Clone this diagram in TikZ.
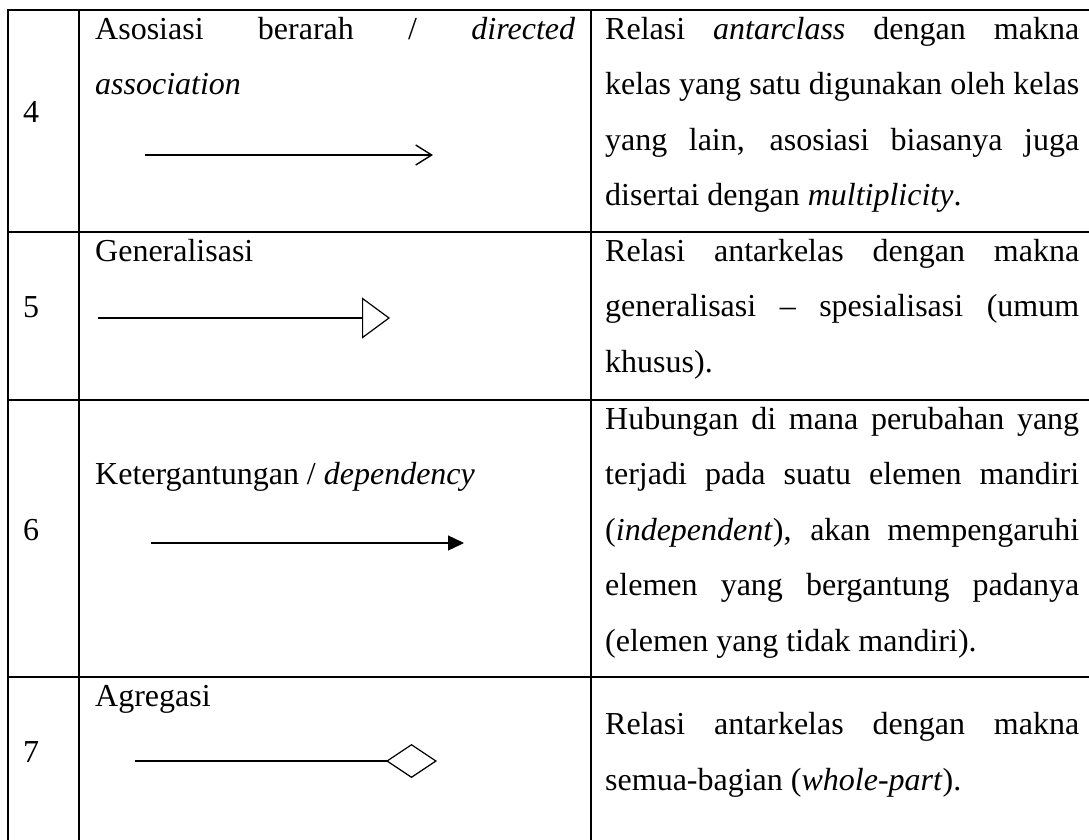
\documentclass[tikz,border=0pt]{standalone}
\usepackage{fontspec}
\setmainfont{Liberation Serif}
\usetikzlibrary{arrows.meta}
\newcommand{\jcol}[1]{\makebox[474pt][s]{#1}}
\newcommand{\jmid}[1]{\makebox[480pt][s]{#1}}
\begin{document}
\begin{tikzpicture}[x=1pt,y=-1pt,
  txt/.style={anchor=base west, inner sep=0pt, font=\fontsize{32pt}{38pt}\selectfont},
  grid/.style={line width=2.4pt, line cap=rect, line join=miter},
  conn/.style={line width=1.4pt}]
\useasboundingbox (0,0) rectangle (1089,839);
% table rules
\draw[grid] (1089,10) -- (8,10) -- (8,839);
\draw[grid] (79,10) -- (79,839);
\draw[grid] (591,10) -- (591,839);
\draw[grid] (8,232) -- (1089,232);
\draw[grid] (8,400) -- (1089,400);
\draw[grid] (8,677) -- (1089,677);
% numbers
\node[txt] (n4) at (23,122) {4};
\node[txt] (n5) at (23,317) {5};
\node[txt] (n6) at (23,540) {6};
\node[txt] (n7) at (23,762) {7};
% middle column
\node[txt] (a1) at (95,39) {\jmid{Asosiasi berarah / \textit{directed}}};
\node[txt] (a2) at (95,94.5) {\textit{association}};
\node[txt] (g1) at (95,261) {Generalisasi};
\node[txt] (k1) at (95,484.5) {Ketergantungan / \textit{dependency}};
\node[txt] (ag1) at (95,706) {Agregasi};
% right column, row 4
\node[txt] (d41) at (605,39) {\jcol{Relasi \textit{antarclass} dengan makna}};
\node[txt] (d42) at (605,94.5) {\jcol{kelas yang satu digunakan oleh kelas}};
\node[txt] (d43) at (605,150) {\jcol{yang lain, asosiasi biasanya juga}};
\node[txt] (d44) at (605,205.5) {disertai dengan \textit{multiplicity}.};
% row 5
\node[txt] (d51) at (605,261) {\jcol{Relasi antarkelas dengan makna}};
\node[txt] (d52) at (605,316.5) {\jcol{generalisasi – spesialisasi (umum}};
\node[txt] (d53) at (605,372) {khusus).};
% row 6
\node[txt] (d61) at (605,429) {\jcol{Hubungan di mana perubahan yang}};
\node[txt] (d62) at (605,484.5) {\jcol{terjadi pada suatu elemen mandiri}};
\node[txt] (d63) at (605,540) {\jcol{(\textit{independent}), akan mempengaruhi}};
\node[txt] (d64) at (605,595.5) {\jcol{elemen yang bergantung padanya}};
\node[txt] (d65) at (605,651) {(elemen yang tidak mandiri).};
% row 7
\node[txt] (d71) at (605,734.5) {\jcol{Relasi antarkelas dengan makna}};
\node[txt] (d72) at (605,790) {semua-bagian (\textit{whole-part}).};
% connector symbols
\coordinate (r4s) at (145,155); \coordinate (r4e) at (433,155);
\draw[conn,-{Straight Barb[length=16pt,width=20pt]}] (r4s) -- (r4e);
\coordinate (r5s) at (98,318); \coordinate (r5e) at (390,318);
\draw[conn,-{Triangle[open,length=28pt,width=41pt,line width=1.2pt]}] (r5s) -- (r5e);
\coordinate (r6s) at (151,543); \coordinate (r6e) at (464,543);
\draw[conn,-{Triangle[length=16pt,width=15pt]}] (r6s) -- (r6e);
\coordinate (r7s) at (135,761); \coordinate (r7e) at (437,761);
\draw[conn,-{Diamond[open,length=51pt,width=34pt,line width=1.2pt]}] (r7s) -- (r7e);
\end{tikzpicture}
\end{document}
